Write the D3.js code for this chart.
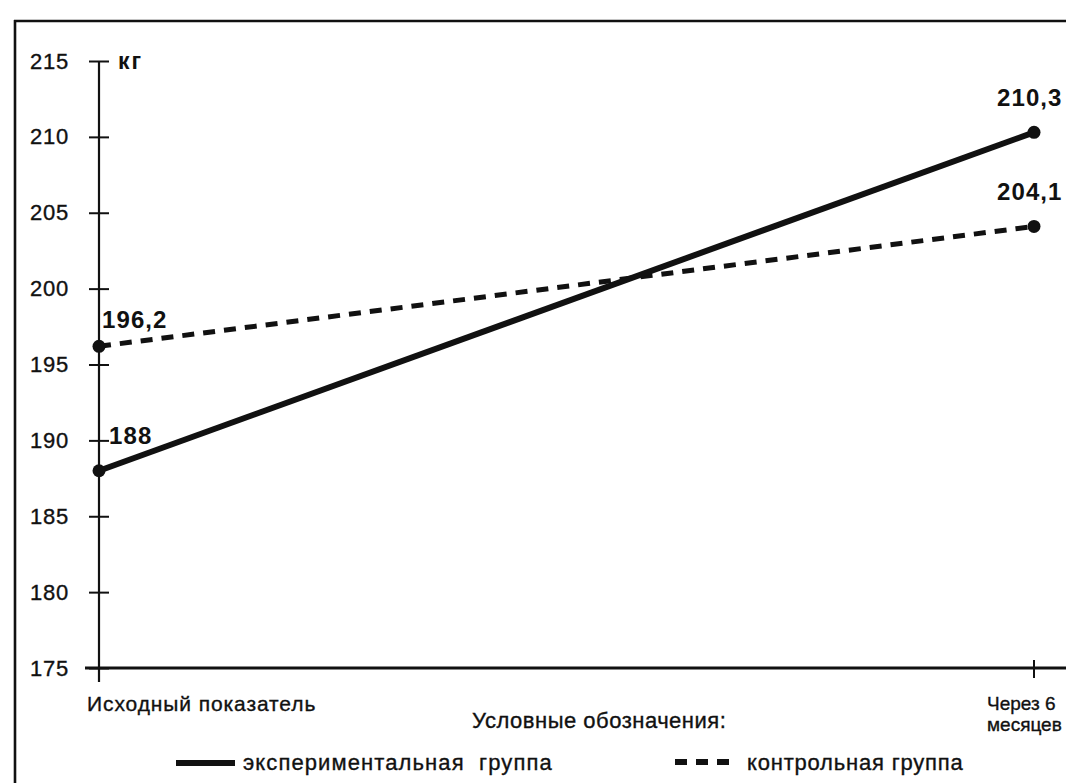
<!DOCTYPE html>
<html>
<head>
<meta charset="utf-8">
<script src="https://cdn.jsdelivr.net/npm/d3@7"></script>
<style>
  html, body { margin: 0; padding: 0; background: #fff; }
  svg { display: block; }
  text { font-family: "Liberation Sans", Arial, Helvetica, sans-serif; fill: #111; white-space: pre; }
  text.reg { stroke: #111; stroke-width: 0.35px; }
</style>
</head>
<body>
<svg id="chart" width="1066" height="783"></svg>
<script>
// Periods measured
const categories = ["Исходный показатель", "Через 6 месяцев"];
const categoryLines = [["Исходный показатель"], ["Через 6", "месяцев"]];

// Series (kg)
const seriesNames = ["экспериментальная  группа", "контрольная группа"];
const experimental = [188, 210.3];
const control = [196.2, 204.1];
const experimentalLabels = ["188", "210,3"];
const controlLabels = ["196,2", "204,1"];

// Y axis
const yTicks = [175, 180, 185, 190, 195, 200, 205, 210, 215];
const yUnit = "кг";
const legendTitle = "Условные обозначения:";

const svg = d3.select("#chart");
const ink = "#111";

const x = d3.scalePoint().domain(categories).range([99, 1034]);
const y = d3.scaleLinear().domain([175, 215]).range([668, 61]);

// Frame
svg.append("line").attr("x1", 15).attr("x2", 15).attr("y1", 20).attr("y2", 783)
  .attr("stroke", ink).attr("stroke-width", 2.6);
svg.append("line").attr("x1", 14).attr("x2", 1066).attr("y1", 21).attr("y2", 21)
  .attr("stroke", ink).attr("stroke-width", 2.6);

// Y axis: ticks crossing the line on both sides
const yAxis = d3.axisLeft(y).tickValues(yTicks).tickSizeInner(10).tickSizeOuter(0).tickPadding(20);
const gy = svg.append("g").attr("transform", `translate(${x(categories[0])},0)`).call(yAxis);
gy.select(".domain").remove();
gy.selectAll(".tick line").attr("x1", -10).attr("x2", 10).attr("stroke", ink).attr("stroke-width", 2);
gy.selectAll(".tick text")
  .attr("class", "reg")
  .attr("font-size", 22).attr("letter-spacing", "0.8px").attr("fill", ink)
  .attr("font-family", "\"Liberation Sans\", Arial, sans-serif");
svg.append("line")
  .attr("x1", x(categories[0])).attr("x2", x(categories[0]))
  .attr("y1", y(215)).attr("y2", 682)
  .attr("stroke", ink).attr("stroke-width", 2.2);

svg.append("text").attr("x", 118).attr("y", 69)
  .attr("font-size", 23).attr("font-weight", "bold").attr("letter-spacing", "2px")
  .text(yUnit);

// X axis
const xAxis = d3.axisBottom(x).tickSize(0).tickFormat("");
const gx = svg.append("g").attr("transform", `translate(0,${y(175)})`).call(xAxis);
gx.select(".domain").remove();
svg.append("line").attr("x1", 85).attr("x2", 1066).attr("y1", y(175)).attr("y2", y(175))
  .attr("stroke", ink).attr("stroke-width", 2.8);
svg.append("line").attr("x1", x(categories[1])).attr("x2", x(categories[1]))
  .attr("y1", y(175) - 8).attr("y2", y(175) + 10)
  .attr("stroke", ink).attr("stroke-width", 2);

// Category labels
svg.append("text").attr("class", "reg").attr("x", 87).attr("y", 711)
  .attr("font-size", 21).attr("letter-spacing", "0.9px").text(categoryLines[0][0]);
const t2 = svg.append("text").attr("class", "reg").attr("x", 987).attr("y", 710)
  .attr("font-size", 19);
categoryLines[1].forEach((ln, j) => {
  t2.append("tspan").attr("x", 987).attr("dy", j === 0 ? 0 : 21).text(ln);
});

// Lines
const line = d3.line().x((d, i) => x(categories[i])).y(d => y(d));

svg.append("path").datum(control).attr("d", line)
  .attr("fill", "none").attr("stroke", ink).attr("stroke-width", 5)
  .attr("stroke-dasharray", "12,9");
svg.append("path").datum(experimental).attr("d", line)
  .attr("fill", "none").attr("stroke", ink).attr("stroke-width", 6);

[experimental, control].forEach(vals => {
  svg.selectAll(null).data(vals).enter().append("circle")
    .attr("cx", (d, i) => x(categories[i])).attr("cy", d => y(d))
    .attr("r", 6.5).attr("fill", ink);
});

// Value labels
function valueLabels(vals, labels, leftDy) {
  svg.selectAll(null).data(vals).enter().append("text")
    .attr("x", (d, i) => i === 0 ? x(categories[i]) + (labels[i].length === 3 ? 10 : 3) : x(categories[i]) - 37)
    .attr("y", (d, i) => y(d) - (i === 0 ? leftDy : 26))
    .attr("font-size", 24).attr("font-weight", "bold").attr("letter-spacing", "1.1px")
    .text((d, i) => labels[i]);
}
valueLabels(experimental, experimentalLabels, 27);
valueLabels(control, controlLabels, 18);

// Legend
svg.append("text").attr("class", "reg").attr("x", 472).attr("y", 728)
  .attr("font-size", 22).attr("letter-spacing", "0.5px").text(legendTitle);

svg.append("line").attr("x1", 176).attr("x2", 235).attr("y1", 763).attr("y2", 763)
  .attr("stroke", ink).attr("stroke-width", 6);
svg.append("text").attr("class", "reg").attr("x", 243).attr("y", 770)
  .attr("font-size", 22).attr("letter-spacing", "1.1px").text(seriesNames[0]);

svg.append("line").attr("x1", 675).attr("x2", 733).attr("y1", 762).attr("y2", 762)
  .attr("stroke", ink).attr("stroke-width", 6).attr("stroke-dasharray", "12,9");
svg.append("text").attr("class", "reg").attr("x", 747).attr("y", 770)
  .attr("font-size", 22).attr("letter-spacing", "0.8px").text(seriesNames[1]);
</script>
</body>
</html>
